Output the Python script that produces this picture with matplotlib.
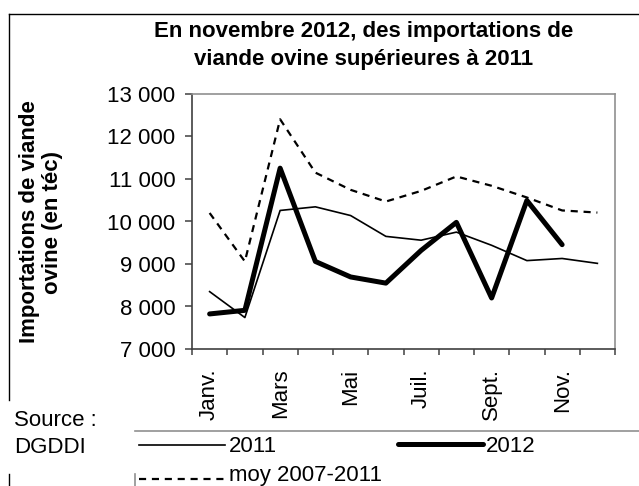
import matplotlib
matplotlib.use("Agg")
import matplotlib.pyplot as plt
from matplotlib.lines import Line2D
import numpy as np

plt.rcParams['font.family'] = ['Liberation Sans', 'DejaVu Sans']

months = ["Janv.", "Févr.", "Mars", "Avr.", "Mai", "Juin", "Juil.", "Août",
          "Sept.", "Oct.", "Nov.", "Déc."]
tick_labels = ["Janv.", "", "Mars", "", "Mai", "", "Juil.", "", "Sept.", "", "Nov.", ""]
s2011 = [8350, 7740, 10260, 10345, 10140, 9650, 9560, 9750, 9440, 9080, 9130, 9015]
s2012 = [7825, 7910, 11255, 9060, 8695, 8550, 9320, 9980, 8200, 10495, 9455]
smoy = [10200, 9060, 12405, 11150, 10745, 10470, 10720, 11060, 10840, 10565, 10260, 10210]
yticks = [7000, 8000, 9000, 10000, 11000, 12000, 13000]
ytick_labels = ["7 000", "8 000", "9 000", "10 000", "11 000", "12 000", "13 000"]

W, H = 639, 486
FS = 16
fig = plt.figure(figsize=(W / 100, H / 100), dpi=100)

def fx(x):
    return x / W

def fy(y):
    return 1 - y / H

ax = fig.add_axes([fx(192), fy(349), fx(615) - fx(192), fy(94) - fy(349)])
x = np.arange(len(months))
ax.plot(x, s2011, color='black', lw=1.2, solid_joinstyle='round')
ax.plot(x[:len(s2012)], s2012, color='black', lw=3.6, solid_capstyle='round', solid_joinstyle='round')
ax.plot(x, smoy, color='black', lw=1.6, linestyle=(0, (3.2, 2.6)))

ax.set_xlim(-0.5, len(months) - 0.5)
ax.set_ylim(7000, 13000)
ax.set_yticks(yticks)
ax.set_yticklabels(ytick_labels, fontsize=FS)
ax.set_xticks(x)
ax.set_xticklabels(tick_labels, rotation=90, fontsize=FS, va='top', ha='center')
ax.set_xticks(np.arange(len(months) + 1) - 0.5, minor=True)
ax.tick_params(axis='x', which='major', length=0, pad=14)
ax.tick_params(axis='x', which='minor', length=4, direction='out', color='#404040', width=1.1)
ax.tick_params(axis='y', which='major', length=5, direction='out', color='#404040', pad=7, width=1.1)
for side in ['top', 'right']:
    ax.spines[side].set_color('#909090')
    ax.spines[side].set_linewidth(1.2)
for side in ['left', 'bottom']:
    ax.spines[side].set_color('#404040')
    ax.spines[side].set_linewidth(1.2)

# Title and y label
fig.text(fx(364), fy(32), "En novembre 2012, des importations de", ha='center', va='center',
         fontsize=FS, fontweight='bold')
fig.text(fx(364), fy(60), "viande ovine supérieures à 2011", ha='center', va='center',
         fontsize=FS, fontweight='bold')
fig.text(fx(41), fy(222), "Importations de viande\novine (en téc)", ha='center', va='center',
         rotation=90, fontsize=FS, fontweight='bold', linespacing=1.15)

# Outer border fragments
fig.add_artist(Line2D([fx(9), fx(9)], [fy(14), fy(400)], color='black', lw=1.0))
fig.add_artist(Line2D([fx(9), fx(639)], [fy(14), fy(14)], color='black', lw=1.0))
fig.add_artist(Line2D([fx(9), fx(9)], [fy(474), fy(486)], color='black', lw=1.0))

# Source
fig.text(fx(14), fy(420), "Source :", ha='left', va='center', fontsize=FS)
fig.text(fx(14), fy(447), "DGDDI", ha='left', va='center', fontsize=FS)

# Legend box pieces
fig.add_artist(Line2D([fx(135), fx(639)], [fy(431), fy(431)], color='#909090', lw=1.2))
fig.add_artist(Line2D([fx(135), fx(135)], [fy(474), fy(486)], color='#909090', lw=1.2))

# Legend entries
fig.add_artist(Line2D([fx(139), fx(225)], [fy(445), fy(445)], color='black', lw=1.2))
fig.text(fx(229), fy(446), "2011", ha='left', va='center', fontsize=FS)
fig.add_artist(Line2D([fx(398), fx(483)], [fy(444), fy(444)], color='black', lw=3.6,
                      solid_capstyle='round'))
fig.text(fx(486), fy(446), "2012", ha='left', va='center', fontsize=FS)
fig.add_artist(Line2D([fx(139), fx(225)], [fy(479), fy(479)], color='black', lw=1.6,
                      linestyle=(0, (3.2, 2.6))))
fig.text(fx(229), fy(475), "moy 2007-2011", ha='left', va='center', fontsize=FS)

fig.savefig("out.png", dpi=100)
